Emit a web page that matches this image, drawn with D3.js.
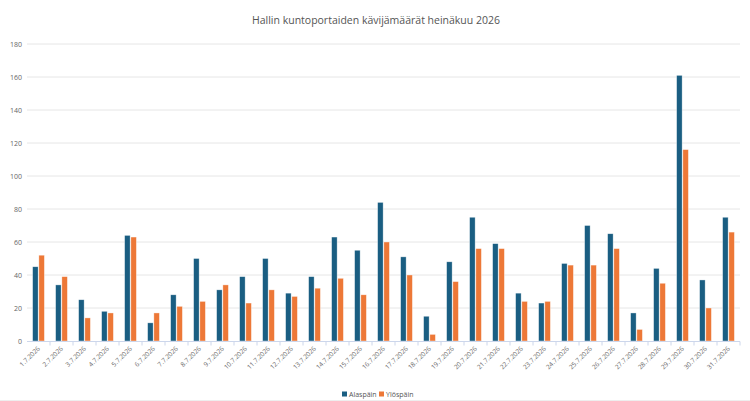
<!DOCTYPE html>
<html>
<head>
<meta charset="utf-8">
<script src="https://cdn.jsdelivr.net/npm/d3@7.9.0/dist/d3.min.js"></script>
<style>
  body { margin: 0; background: #fff; }
  svg { display: block; font-family: "Open Sans", sans-serif; }
</style>
</head>
<body>
<svg width="750" height="401"></svg>
<script>
const days = ['1.7.2026','2.7.2026','3.7.2026','4.7.2026','5.7.2026','6.7.2026','7.7.2026','8.7.2026',
  '9.7.2026','10.7.2026','11.7.2026','12.7.2026','13.7.2026','14.7.2026','15.7.2026','16.7.2026',
  '17.7.2026','18.7.2026','19.7.2026','20.7.2026','21.7.2026','22.7.2026','23.7.2026','24.7.2026',
  '25.7.2026','26.7.2026','27.7.2026','28.7.2026','29.7.2026','30.7.2026','31.7.2026'];
const alaspain = [45,34,25,18,64,11,28,50,31,39,50,29,39,63,55,84,51,15,48,75,59,29,23,47,70,65,17,44,161,37,75];
const ylospain = [52,39,14,17,63,17,21,24,34,23,31,27,32,38,28,60,40,4,36,56,56,24,24,46,46,56,7,35,116,20,66];
const seriesNames = ['Alaspäin', 'Ylöspäin'];
const colors = ['#1a5e82', '#ed7837'];
const yTicks = [0,20,40,60,80,100,120,140,160,180];

const svg = d3.select('svg');
const W = 750, H = 401;
const left = 27, right = 740;

let x = d3.scaleBand().domain(days).range([left, right]);
let y = d3.scaleLinear().domain([0, 180]).range([341, 44]);
let xs = d3.scaleBand().domain(seriesNames).range([0, x.bandwidth()]).paddingInner(0.12).paddingOuter(0.9);

// title
svg.append('text')
  .attr('x', 376).attr('y', 24)
  .attr('text-anchor', 'middle')
  .attr('fill', '#555')
  .style('font-size', '10.5px')
  .text('Hallin kuntoportaiden kävijämäärät heinäkuu 2026');

// grid lines and y labels
svg.append('g').selectAll('line').data(yTicks.slice(1)).join('line')
  .attr('x1', left).attr('x2', right)
  .attr('y1', d => y(d)).attr('y2', d => y(d))
  .attr('stroke', '#e6e6e6');

svg.append('g').selectAll('text').data(yTicks).join('text')
  .attr('x', 22).attr('y', d => y(d) + 2.5)
  .attr('text-anchor', 'end')
  .attr('fill', '#666')
  .style('font-size', '7px')
  .text(d => d);

// bars
let data = days.map((d, i) => ({ day: d, vals: [alaspain[i], ylospain[i]] }));
let groups = svg.append('g').selectAll('g').data(data).join('g')
  .attr('transform', d => `translate(${x(d.day)},0)`);
groups.selectAll('rect').data(d => d.vals.map((v, k) => ({ v, k }))).join('rect')
  .attr('x', d => xs(seriesNames[d.k]))
  .attr('width', xs.bandwidth())
  .attr('y', d => y(d.v))
  .attr('height', d => y(0) - y(d.v))
  .attr('fill', d => colors[d.k])
  .attr('stroke', '#fff')
  .attr('stroke-opacity', 0.6)
  .attr('stroke-width', 0.6);

// x axis
svg.append('line')
  .attr('x1', left).attr('x2', right)
  .attr('y1', 341.5).attr('y2', 341.5)
  .attr('stroke', '#ccd6eb');
svg.append('g').selectAll('line').data(days.slice(1).concat(['end'])).join('line')
  .attr('x1', d => d === 'end' ? right : x(d)).attr('x2', d => d === 'end' ? right : x(d))
  .attr('y1', 341.5).attr('y2', 345.5)
  .attr('stroke', '#ccd6eb');

svg.append('g').selectAll('text').data(days).join('text')
  .attr('transform', d => `translate(${x(d) + x.bandwidth() / 2 + 2},349) rotate(-45)`)
  .attr('text-anchor', 'end')
  .attr('fill', '#666')
  .style('font-size', '6.5px')
  .text(d => d);

// legend
let legend = svg.append('g').attr('transform', 'translate(342,396.5)');
let lx = [0, 37];
seriesNames.forEach((name, i) => {
  legend.append('rect')
    .attr('x', lx[i]).attr('y', -5).attr('width', 5).attr('height', 5)
    .attr('fill', colors[i]);
  legend.append('text')
    .attr('x', lx[i] + 7).attr('y', 0)
    .attr('fill', '#555')
    .style('font-size', '7px')
    .text(name);
});

// bottom border
svg.append('line')
  .attr('x1', 0).attr('x2', W).attr('y1', 400.5).attr('y2', 400.5)
  .attr('stroke', '#eee');
</script>
</body>
</html>
